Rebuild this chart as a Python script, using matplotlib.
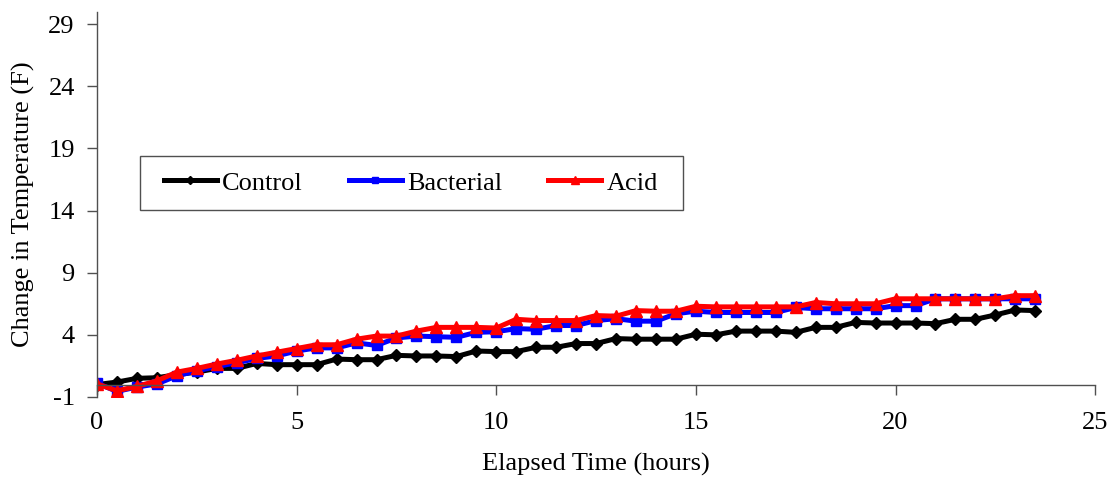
import matplotlib.pyplot as plt
from matplotlib.patches import Rectangle

# время замера, часы
hours = [0, 0.5, 1, 1.5, 2, 2.5, 3, 3.5, 4, 4.5, 5, 5.5, 6, 6.5, 7, 7.5,
         8, 8.5, 9, 9.5, 10, 10.5, 11, 11.5, 12, 12.5, 13, 13.5, 14, 14.5, 15, 15.5,
         16, 16.5, 17, 17.5, 18, 18.5, 19, 19.5, 20, 20.5, 21, 21.5, 22, 22.5, 23, 23.5]

control = [0.0, 0.2, 0.5, 0.55, 0.8, 1.0, 1.3, 1.3, 1.7, 1.6, 1.6, 1.6, 2.05, 2.0, 2.0, 2.35,
           2.3, 2.3, 2.25, 2.7, 2.65, 2.65, 3.0, 3.0, 3.3, 3.3, 3.7, 3.65, 3.65, 3.65, 4.05, 4.0,
           4.3, 4.3, 4.3, 4.2, 4.6, 4.6, 5.0, 4.95, 4.95, 4.95, 4.9, 5.25, 5.25, 5.6, 6.0, 5.95]

bacterial = [0.1, -0.55, -0.2, 0.05, 0.7, 1.1, 1.45, 1.75, 2.1, 2.3, 2.7, 2.95, 2.95, 3.35, 3.15, 3.75,
             3.9, 3.85, 3.8, 4.2, 4.25, 4.5, 4.45, 4.75, 4.75, 5.15, 5.3, 5.1, 5.1, 5.7, 5.9, 5.8,
             5.8, 5.8, 5.8, 6.2, 6.1, 6.1, 6.1, 6.1, 6.35, 6.35, 6.9, 6.9, 6.9, 6.9, 6.9, 6.9]

acid = [0.05, -0.5, -0.15, 0.3, 1.0, 1.3, 1.65, 1.95, 2.3, 2.6, 2.9, 3.2, 3.2, 3.65, 3.9, 3.9,
        4.3, 4.6, 4.6, 4.6, 4.55, 5.25, 5.15, 5.15, 5.15, 5.55, 5.5, 5.95, 5.9, 5.9, 6.3, 6.25,
        6.25, 6.25, 6.25, 6.25, 6.6, 6.5, 6.5, 6.5, 6.9, 6.9, 6.9, 6.9, 6.9, 6.9, 7.15, 7.15]

x_ticks = [0, 5, 10, 15, 20, 25]
y_ticks = [-1, 4, 9, 14, 19, 24, 29]

plt.rcParams['font.family'] = ['Liberation Serif', 'DejaVu Serif']
plt.rcParams['axes.unicode_minus'] = False
fs = 19
axis_color = '#505050'

fig = plt.figure(figsize=(11.14, 4.84), dpi=100)
ax = fig.add_axes([0.0871, 0.1798, 0.8960, 0.7960])

ax.plot(hours, control, color='black', lw=3.6, marker='D', ms=6.5, label='Control')
ax.plot(hours, bacterial, color='#0000ff', lw=3.6, marker='s', ms=6.5, label='Bacterial')
ax.plot(hours, acid, color='#ff0000', lw=3.6, marker='^', ms=9, label='Acid')

ax.set_xlim(0, 25)
ax.set_ylim(-1, 30)
ax.set_xticks(x_ticks)
ax.set_yticks(y_ticks)

# ось X проходит через ноль, как в Excel
ax.spines['bottom'].set_position(('data', 0))
ax.spines['top'].set_visible(False)
ax.spines['right'].set_visible(False)
for s in ('bottom', 'left'):
    ax.spines[s].set_color(axis_color)
    ax.spines[s].set_linewidth(1.0)

ax.tick_params(axis='both', direction='out', length=7, width=1, color=axis_color,
               labelsize=fs)
ax.tick_params(axis='x', pad=12.5)
ax.tick_params(axis='y', pad=9)

ax.set_xlabel('Elapsed Time (hours)', fontsize=fs)
ax.set_ylabel('Change in Temperature (F)', fontsize=fs)
ax.xaxis.set_label_coords(0.5, -0.145)
ax.yaxis.set_label_coords(-0.062, 0.5)

# рамка легенды
fig.patches.append(Rectangle((140 / 1114, 1 - 210 / 484), 543 / 1114, 54 / 484,
                             transform=fig.transFigure, fill=False,
                             ec=axis_color, lw=1.0))
fig.legend(loc='center left', bbox_to_anchor=(164 / 1114, 1 - 183 / 484), ncol=3,
           frameon=False, fontsize=fs, handlelength=2.0, handletextpad=0.2,
           columnspacing=1.75, borderpad=0, borderaxespad=0, markerscale=0.7)

plt.savefig('out.png', dpi=100)
